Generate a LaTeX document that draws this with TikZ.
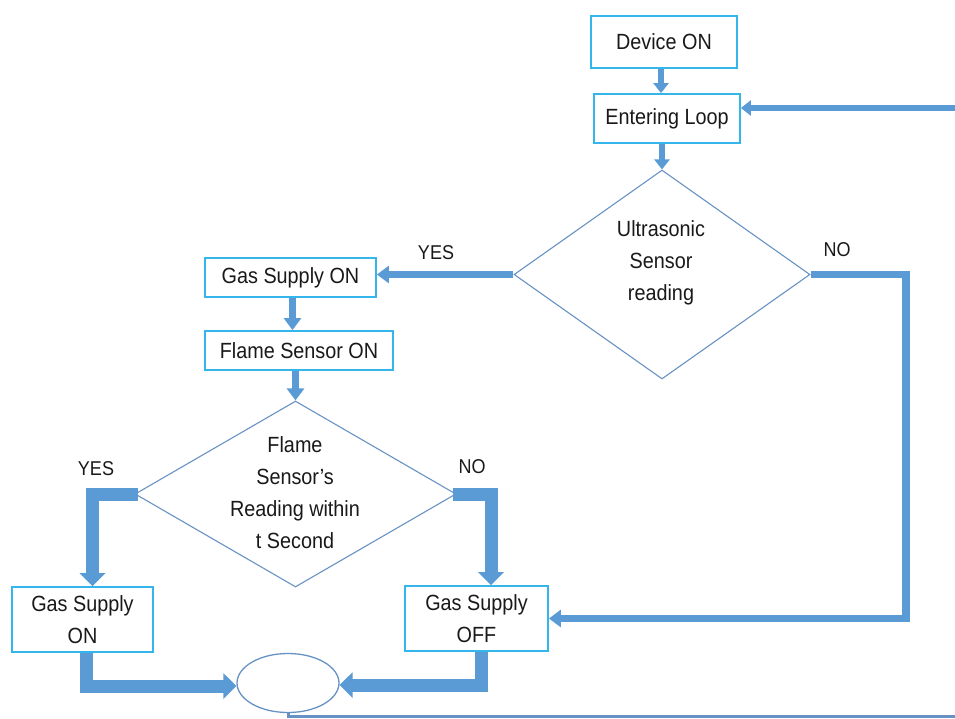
\documentclass[tikz,border=0pt]{standalone}
\usepackage{fontspec}
\setmainfont[FakeStretch=0.9]{Liberation Sans}
\usetikzlibrary{shapes.geometric,arrows.meta,calc}
\definecolor{boxc}{RGB}{52,182,236}
\definecolor{arrc}{RGB}{91,155,213}
\definecolor{linec}{RGB}{104,146,196}
\definecolor{txt}{RGB}{25,25,25}
\begin{document}
\begin{tikzpicture}[x=1pt,y=-1pt,
  box/.style={draw=boxc, line width=1.8pt, rectangle, inner sep=0pt, font=\fontsize{22}{32}\selectfont, text=txt, align=center},
  dia/.style={draw=linec, line width=1.1pt, diamond, inner sep=0pt},
  lbl/.style={font=\fontsize{20}{22}\selectfont, text=txt, inner sep=0pt},
  intext/.style={font=\fontsize{22}{32}\selectfont, text=txt, align=center, inner sep=0pt},
  arrS/.style={draw=arrc, line width=6pt, -{Triangle[width=15pt,length=10pt]}},
  arrM/.style={draw=arrc, line width=7.5pt, line join=miter, -{Triangle[width=17pt,length=12pt]}},
  arrB/.style={draw=arrc, line width=13pt, line join=miter, -{Triangle[width=25pt,length=13pt]}},
  retline/.style={draw=linec, line width=3pt, line join=miter}
]
\useasboundingbox (0,0) rectangle (955,718);

% boxes
\node[box, minimum width=146pt, minimum height=52pt] (dev) at (664,42) {Device ON};
\node[box, minimum width=146pt, minimum height=49pt] (ent) at (667,118.5) {Entering Loop};
\node[box, minimum width=171pt, minimum height=39pt] (gs1) at (290.5,277.5) {Gas Supply ON};
\node[box, minimum width=188pt, minimum height=39pt] (fs) at (299,350.5) {Flame Sensor ON};
\node[box, minimum width=141pt, minimum height=65pt] (gsL) at (82.5,619.5) {Gas Supply\\ON};
\node[box, minimum width=143pt, minimum height=65pt] (gsOff) at (476.5,618.5) {Gas Supply\\OFF};

% decisions
\node[dia, minimum width=296pt, minimum height=209pt] (us) at (662,274.5) {};
\node[intext] (ustext) at (661,263) {Ultrasonic\\Sensor\\reading};
\node[dia, minimum width=321pt, minimum height=186pt] (fd) at (295.5,494) {};
\node[intext] (fdtext) at (295,493) {Flame\\Sensor’s\\Reading within\\t Second};

% junction
\node[draw=linec, line width=1.3pt, ellipse, minimum width=102pt, minimum height=59pt, inner sep=0pt] (el) at (288,683) {};

% labels
\node[lbl] (yes1) at (436,253) {YES};
\node[lbl] (no1) at (837,250) {NO};
\node[lbl] (yes2) at (96,469) {YES};
\node[lbl] (no2) at (472,467) {NO};

% loop coordinates
\coordinate (loopin) at (955,108);
\coordinate (loopout) at (955,716);
\coordinate (rx) at (906,0);

% connectors
\draw[arrS] ([xshift=-3pt]dev.south) -- ([xshift=-3pt]dev.south |- ent.north);
\draw[arrS] (us.north |- ent.south) -- (us.north);
\draw[arrS] (loopin) -- (loopin -| ent.east);
\draw[arrM] (us.west) -- (us.west -| gs1.east);
\draw[arrM] ([xshift=2pt]gs1.south) -- ([xshift=2pt]gs1.south |- fs.north);
\draw[arrM] (fd.north |- fs.south) -- (fd.north);
\draw[arrB] ([xshift=4pt]fd.west) -| ([xshift=10pt]gsL.north);
\draw[arrB] ([xshift=-4pt]fd.east) -| ([xshift=14.5pt]gsOff.north);
\draw[arrM] (us.east) -- (us.east -| rx) -- (rx |- gsOff.east) -- (gsOff.east);
\draw[arrB] ([xshift=3.5pt]gsL.south) |- ([yshift=-3pt]el.west);
\draw[arrB] ([xshift=4.5pt]gsOff.south) |- ([yshift=-2pt]el.east);
\draw[retline] (el.south) |- (loopout);
\end{tikzpicture}
\end{document}
